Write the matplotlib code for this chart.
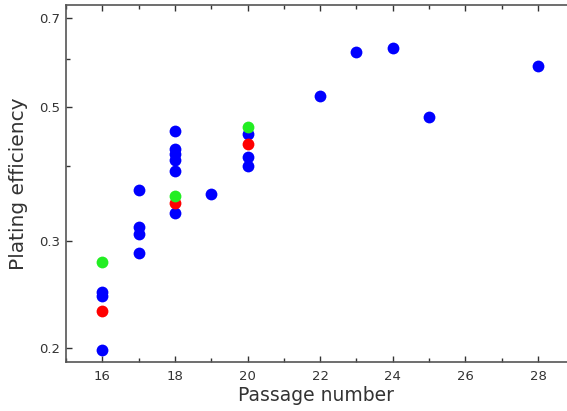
import numpy as np
import matplotlib
matplotlib.use("Agg")
import matplotlib.pyplot as plt
from matplotlib.ticker import FixedLocator, NullFormatter

# blue points
blue_x = [16, 16, 16, 17, 17, 17, 17, 18, 18, 18, 18, 18, 18, 19, 20, 20, 20, 22, 23, 24, 25, 28]
blue_y = [0.1985, 0.2474, 0.2436, 0.3644, 0.3170, 0.3091, 0.2876,
          0.4558, 0.4257, 0.4172, 0.4083, 0.3912, 0.3342, 0.3593,
          0.4502, 0.4134, 0.3991, 0.520, 0.616, 0.6254, 0.480, 0.5834]
# red points
red_x = [16, 18, 20]
red_y = [0.2301, 0.3477, 0.4334]
# green points
green_x = [16, 18, 20]
green_y = [0.2772, 0.3566, 0.4633]

ytick_vals = [0.2, 0.3, 0.5, 0.7]
ytick_minor = [0.4, 0.6]
xtick_major = [16, 18, 20, 22, 24, 26, 28]
xtick_minor = [15, 17, 19, 21, 23, 25, 27]

fig = plt.figure(figsize=(5.67, 4.11), dpi=100)
ax = fig.add_axes([0.1164, 0.1192, 0.8836, 0.8686])

ax.plot(blue_x, blue_y, 'o', color='#0000ff', markersize=8.5, markeredgewidth=0)
ax.plot(red_x, red_y, 'o', color='#ff0000', markersize=8.5, markeredgewidth=0)
ax.plot(green_x, green_y, 'o', color='#22ee22', markersize=8.5, markeredgewidth=0)

ax.set_yscale('log')
ax.set_xlim(15, 28.8)
ax.set_ylim(0.190, 0.735)

ax.yaxis.set_major_locator(FixedLocator(ytick_vals))
ax.yaxis.set_minor_locator(FixedLocator(ytick_minor))
ax.set_yticklabels([str(v) for v in ytick_vals])
ax.yaxis.set_minor_formatter(NullFormatter())
ax.set_xticks(xtick_major)
ax.set_xticks(xtick_minor, minor=True)

ax.spines['right'].set_visible(False)
for s in ['left', 'top', 'bottom']:
    ax.spines[s].set_color('#555555')
    ax.spines[s].set_linewidth(1.2)

ax.tick_params(which='both', direction='in', top=True, right=False, color='#333333',
               labelsize=9.5, labelcolor='#333333')
ax.tick_params(which='major', length=4, width=1)
ax.tick_params(which='minor', length=3, width=1)
ax.tick_params(axis='x', pad=6)
ax.tick_params(axis='y', pad=4)

ax.set_xlabel("Passage number", fontsize=13.5, color='#333333', labelpad=2)
ax.set_ylabel("Plating efficiency", fontsize=14.5, color='#333333', labelpad=8)

fig.savefig("out.png", dpi=100)
